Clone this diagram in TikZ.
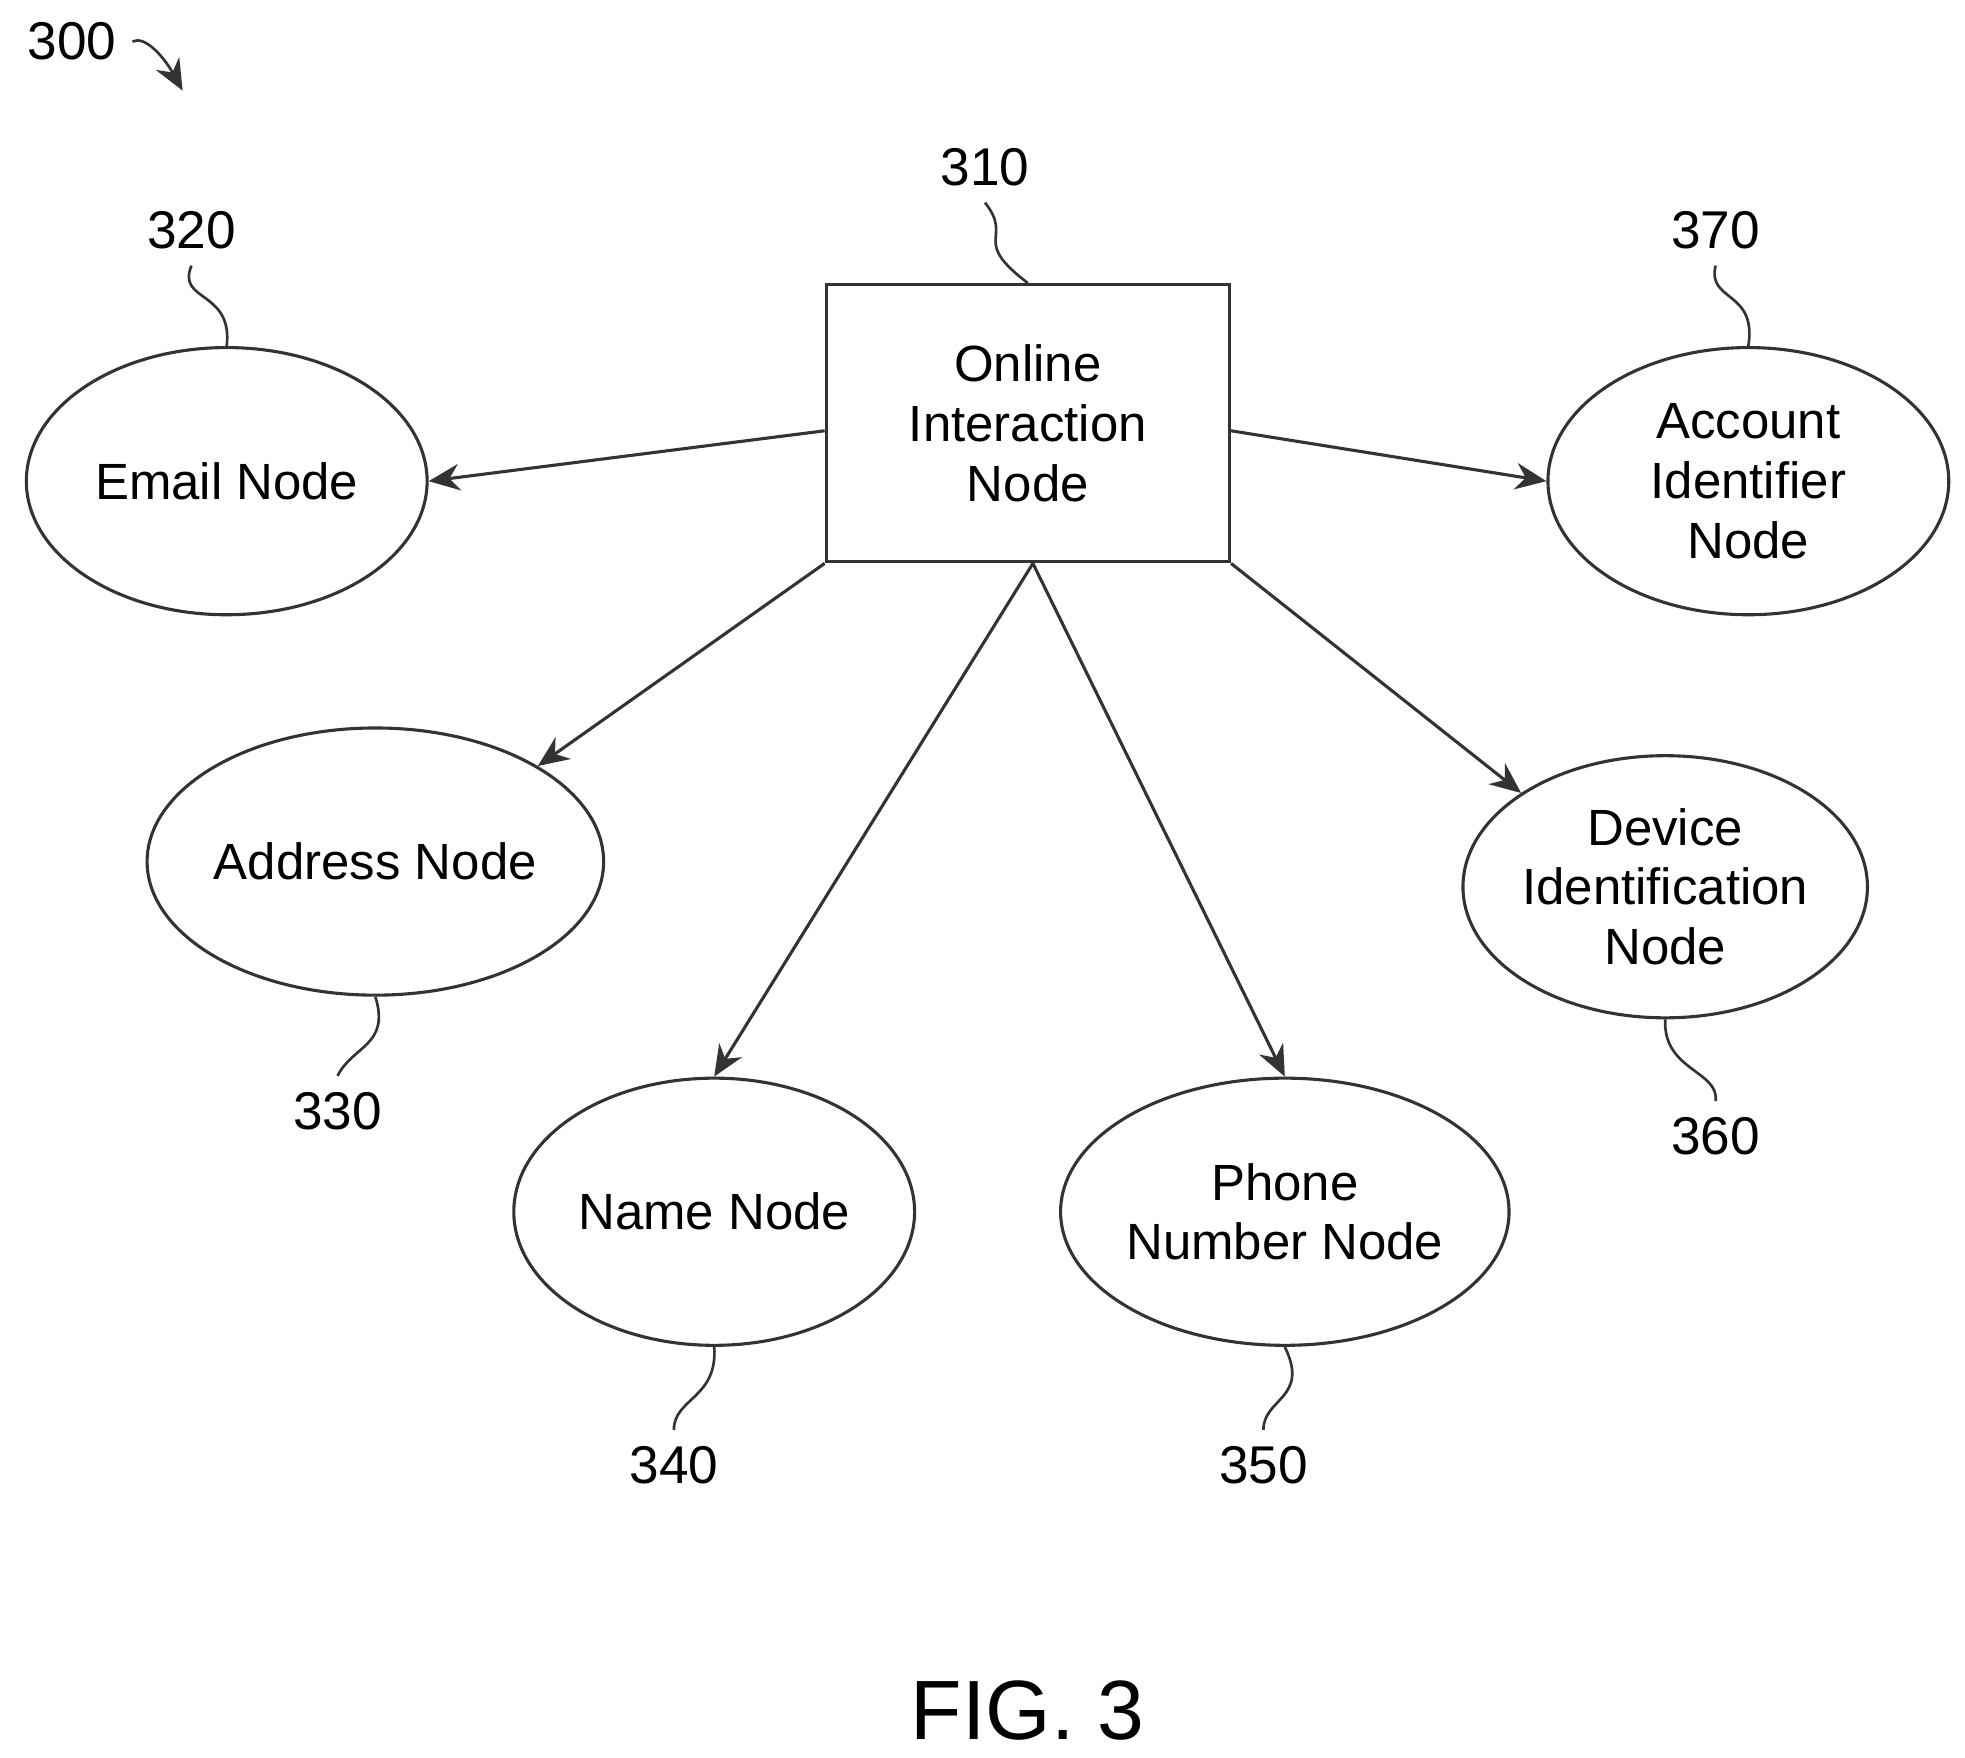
\documentclass[tikz,border=0pt]{standalone}
\usepackage{fontspec}
\setmainfont{Liberation Sans}
\usetikzlibrary{shapes.geometric,arrows.meta}

\begin{document}
\begin{tikzpicture}[
    x=0.01cm, y=-0.01cm,
    font=\fontsize{11.5}{13.5}\selectfont,
    align=center,
    line width=0.7pt,
    >={Stealth[length=7pt,width=6pt]},
    ent/.style={
    	ellipse,
    	draw=black!80,
    	minimum width=3.18cm,
    	minimum height=2.12cm,
    	inner sep=0pt
    },
    box/.style={
    	rectangle,
    	draw=black!80,
    	minimum width=3.2cm,
    	minimum height=2.2cm
    },
    ref/.style={font=\fontsize{12}{14}\selectfont},
    lead/.style={draw=black!80, line width=0.6pt}
    ]
   \useasboundingbox (0,0) rectangle (1560,1395);

   \node[box] (n310) at (816,336) {Online\\Interaction\\Node};
   \node[ent] (n320) at (180,382) {Email Node};
   \node[ent] (n370) at (1388,382) {Account\\Identifier\\Node};
   \node[ent] (n330) at (298,684) {Address Node};
   \node[ent, minimum height=2.08cm] (n360) at (1322,704) {Device\\Identification\\Node};
   \node[ent] (n340) at (567,962) {Name Node};
   \node[ent] (n350) at (1020,962) {Phone\\Number Node};

   % reference numerals
   \node[ref] (l300) at (57,33) {300};
   \node[ref] (l310) at (782,133) {310};
   \node[ref] (l320) at (152,183) {320};
   \node[ref] (l370) at (1362,183) {370};
   \node[ref] (l330) at (268,882) {330};
   \node[ref] (l360) at (1362,902) {360};
   \node[ref] (l340) at (535,1163) {340};
   \node[ref] (l350) at (1003,1163) {350};
   \node[font=\fontsize{19}{22}\selectfont] (fig) at (816,1358) {FIG. 3};

   % connectors
   \draw[->,black!80] ([yshift=-0.06cm]n310.west) -- (n320.east);
   \draw[->,black!80] ([yshift=-0.06cm]n310.east) -- (n370.west);
   \draw[->,black!80] (n310.south west) -- (n330.north east);
   \draw[->,black!80] ([xshift=0.04cm]n310.south) -- (n340.north);
   \draw[->,black!80] ([xshift=0.04cm]n310.south) -- (n350.north);
   \draw[->,black!80] (n310.south east) -- (n360.north west);

   % leaders
   \draw[lead] (l310.south) .. controls (805,190) and (770,190) .. (n310.north);
   \draw[lead] (l320.south) .. controls (140,240) and (185,230) .. (n320.north);
   \draw[lead] (l370.south) .. controls (1355,240) and (1395,230) .. (n370.north);
   \draw[lead] (l330.north) .. controls (280,830) and (310,830) .. (n330.south);
   \draw[lead] (l360.north) .. controls (1365,850) and (1320,850) .. (n360.south);
   \draw[lead] (l340.north) .. controls (535,1110) and (570,1110) .. (n340.south);
   \draw[lead] (l350.north) .. controls (1003,1110) and (1040,1110) .. (n350.south);
   \coordinate (c300) at (145,72);
   \draw[lead,->] (l300.east) .. controls (115,28) and (130,45) .. (c300);
\end{tikzpicture}
\end{document}
